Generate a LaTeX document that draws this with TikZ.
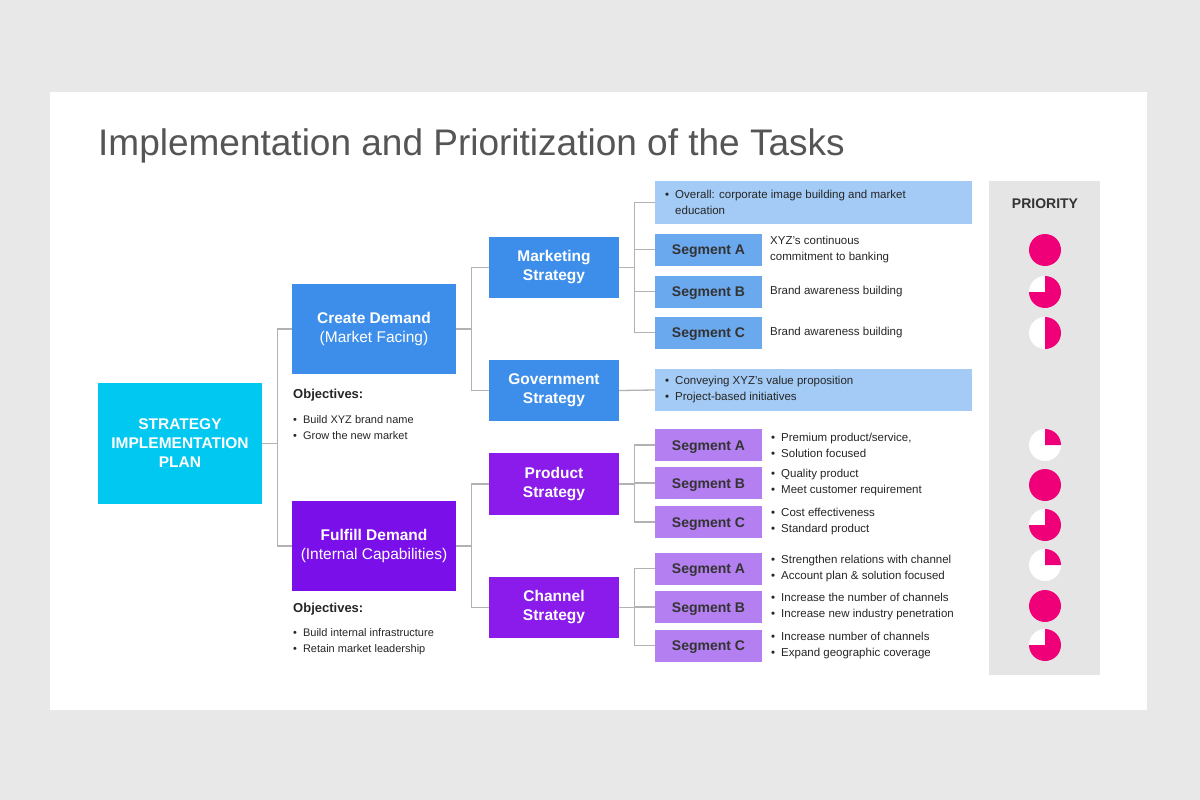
\documentclass[tikz,border=0pt]{standalone}
\usepackage{fontspec}
\setmainfont{Liberation Sans}
\usetikzlibrary{positioning}
\definecolor{cyanbox}{RGB}{0,200,240}
\definecolor{bluebox}{RGB}{61,142,234}
\definecolor{lightblue}{RGB}{163,203,245}
\definecolor{purplebox}{RGB}{122,15,234}
\definecolor{midpurple}{RGB}{138,27,234}
\definecolor{lightpurple}{RGB}{180,127,240}
\definecolor{pinkdot}{RGB}{240,0,120}
\definecolor{titlegray}{RGB}{85,85,85}
\tikzset{
  box/.style={draw=none, align=center, inner sep=0pt, text=white, font=\bfseries\fontsize{15.5}{19}\selectfont},
  segbox/.style={box, minimum width=107pt, minimum height=32pt, text height=10pt, text depth=0pt, text=black!80, font=\bfseries\fontsize{14}{16}\selectfont},
  note/.style={anchor=west, align=left, inner sep=0pt, text=black!85, font=\fontsize{11.5}{16}\selectfont},
  link/.style={draw=black!30, line width=1.3pt},
  pie/.style={fill=pinkdot}
}
\newcommand{\bul}{\textbullet\hspace{6pt}}
\begin{document}
\begin{tikzpicture}[x=1pt, y=-1pt]
\fill[black!9] (0,0) rectangle (1200,800);
\fill[white] (50,92) rectangle (1147,710);
\node[anchor=base west, inner sep=0pt, text=titlegray, font=\fontsize{37}{42}\selectfont] (title) at (98,155) {Implementation and Prioritization of the Tasks};

% main boxes
\node[box, fill=cyanbox, minimum width=164pt, minimum height=121pt] (plan) at (180,443.5) {STRATEGY\\IMPLEMENTATION\\PLAN};
\node[box, fill=bluebox, minimum width=164pt, minimum height=90pt] (create) at (374,329) {Create Demand\\\mdseries(Market Facing)};
\node[box, fill=purplebox, minimum width=164pt, minimum height=90pt] (fulfill) at (374,546) {Fulfill Demand\\\mdseries(Internal Capabilities)};
\node[note, font=\bfseries\fontsize{13}{16}\selectfont] (obj1) at (293,395) {Objectives:};
\node[note, font=\fontsize{11}{16}\selectfont] (obj1list) at (293,428) {\bul Build XYZ brand name\\\bul Grow the new market};
\node[note, font=\bfseries\fontsize{13}{16}\selectfont] (obj2) at (293,609) {Objectives:};
\node[note, font=\fontsize{11}{16}\selectfont] (obj2list) at (293,642) {\bul Build internal infrastructure\\\bul Retain market leadership};

% strategies
\node[box, fill=bluebox, minimum width=130pt, minimum height=61pt] (mkt) at (554,267.5) {Marketing\\Strategy};
\node[box, fill=bluebox, minimum width=130pt, minimum height=61pt] (gov) at (554,390.5) {Government\\Strategy};
\node[box, fill=midpurple, minimum width=130pt, minimum height=62pt] (prod) at (554,484) {Product\\Strategy};
\node[box, fill=midpurple, minimum width=130pt, minimum height=61pt] (chan) at (554,607.5) {Channel\\Strategy};

% marketing details
\node[box, fill=lightblue, minimum width=317pt, minimum height=43pt] (overall) at (813.5,202.5) {};
\node[note] at (665,202.5) {\bul Overall: corporate image building and market\\\phantom{\bul}education};
\node[segbox, fill=bluebox!55!lightblue] (mA) at (708.5,249.5) {Segment A};
\node[note] at (770,249.5) {XYZ's continuous\\commitment to banking};
\node[segbox, fill=bluebox!55!lightblue] (mB) at (708.5,291.5) {Segment B};
\node[note] at (770,291.5) {Brand awareness building};
\node[segbox, fill=bluebox!55!lightblue] (mC) at (708.5,332.5) {Segment C};
\node[note] at (770,332.5) {Brand awareness building};
\node[box, fill=lightblue, minimum width=317pt, minimum height=42pt] (govt) at (813.5,390) {};
\node[note] at (665,390) {\bul Conveying XYZ's value proposition\\\bul Project-based initiatives};

% product and channel details
\foreach \nm/\yy/\sg/\ta/\tb in {
  pA/445/A/{Premium product/service,}/{Solution focused},
  pB/483/B/{Quality product}/{Meet customer requirement},
  pC/522/C/{Cost effectiveness}/{Standard product},
  cA/568.5/A/{Strengthen relations with channel}/{Account plan \& solution focused},
  cB/607/B/{Increase the number of channels}/{Increase new industry penetration},
  cC/645.5/C/{Increase number of channels}/{Expand geographic coverage}}{
  \node[segbox, fill=lightpurple] (\nm) at (708.5,\yy) {Segment \sg};
  \node[note] at (771,\yy) {\bul\ta\\\bul\tb};
}

% connectors
\draw[link] (plan.east) -- ++(15,0) coordinate (j0);
\draw[link] (create.west) -| (j0) |- (fulfill.west);
\draw[link] (create.east) -- ++(15,0) coordinate (j1);
\draw[link] (mkt.west) -| (j1) |- (gov.west);
\draw[link] (fulfill.east) -- ++(15,0) coordinate (j2);
\draw[link] (prod.west) -| (j2) |- (chan.west);
\draw[link] (mkt.east) -- ++(15,0) coordinate (j3);
\draw[link] (overall.west) -| (j3) |- (mC.west);
\draw[link] (j3 |- mA) -- (mA.west);
\draw[link] (j3 |- mB) -- (mB.west);
\draw[link] (gov.east) -- (govt.west);
\draw[link] (prod.east) -- ++(15,0) coordinate (j4);
\draw[link] (pA.west) -| (j4) |- (pC.west);
\draw[link] (j4 |- pB) -- (pB.west);
\draw[link] (chan.east) -- ++(15,0) coordinate (j5);
\draw[link] (cA.west) -| (j5) |- (cC.west);
\draw[link] (j5 |- cB) -- (cB.west);

% priority
\fill[black!10] (989,181) rectangle (1100,675);
\node[font=\bfseries\fontsize{14}{16}\selectfont, text=black!80] (prio) at (1045,204) {PRIORITY};
\foreach \yy/\ff in {250/1, 292/0.75, 333/0.5, 445/0.25, 485/1, 525/0.75, 565/0.25, 606/1, 645/0.75}{
  \fill[white] (1045,\yy) circle (16);
  \ifdim\ff pt=1pt
    \fill[pie] (1045,\yy) circle (16);
  \else
    \fill[pie] (1045,\yy) -- ++(0,-16) arc[start angle=-90, end angle={-90+360*\ff}, radius=16] -- cycle;
  \fi
}
\end{tikzpicture}
\end{document}
